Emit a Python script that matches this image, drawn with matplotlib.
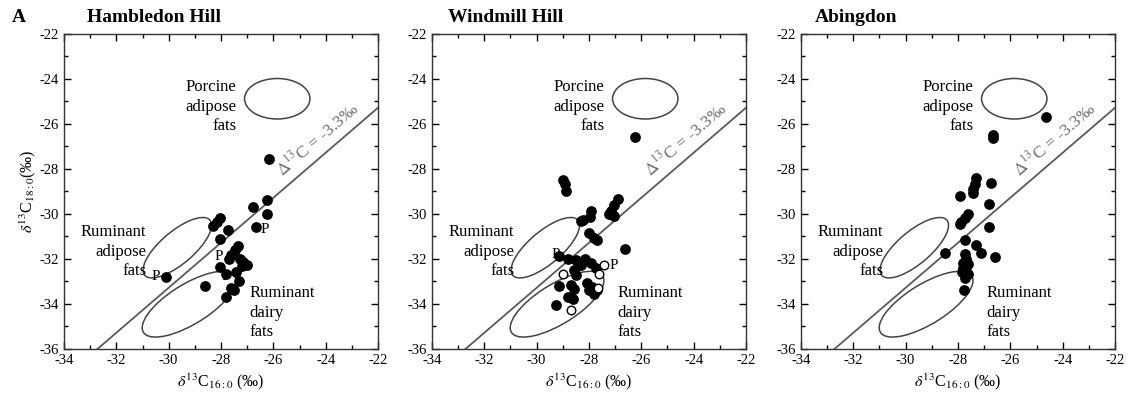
import numpy as np
import matplotlib
matplotlib.use('Agg')
import matplotlib.pyplot as plt
from matplotlib.patches import Ellipse
from matplotlib.ticker import MultipleLocator

plt.rcParams['font.family'] = ['Liberation Serif', 'DejaVu Serif']
plt.rcParams['mathtext.fontset'] = 'stix'
plt.rcParams['axes.unicode_minus'] = False

# Hambledon Hill
hh_x = [-26.16, -26.25, -26.77, -26.25, -26.66, -28.04, -28.17, -28.32, -27.72, -28.04,
        -27.34, -27.47, -27.6, -27.68, -27.27, -27.15, -27.02, -27.2, -28.04, -27.8,
        -27.44, -27.3, -27.6, -27.52, -27.8, -28.6, -30.1]
hh_y = [-27.56, -29.41, -29.7, -30.03, -30.62, -30.22, -30.37, -30.56, -30.74, -31.14,
        -31.45, -31.63, -31.85, -32.0, -32.04, -32.15, -32.3, -32.34, -32.37, -32.7,
        -32.6, -33.0, -33.3, -33.42, -33.7, -33.2, -32.8]
hh_open_x = []
hh_open_y = []
hh_p = [(-26.33, -30.7), (-28.1, -31.93), (-27.8, -32.8), (-30.5, -32.78)]

# Windmill Hill
wh_x = [-26.23, -29.0, -28.93, -28.88, -26.9, -27.03, -27.15, -27.25, -27.06, -27.92,
        -27.95, -28.24, -28.3, -28.0, -27.8, -27.7, -26.64, -29.14, -28.81, -28.49,
        -28.17, -28.3, -27.92, -27.73, -28.56, -28.49, -29.14, -28.69, -28.56, -28.06,
        -27.87, -27.68, -28.0, -27.8, -28.81, -28.62, -29.26]
wh_y = [-26.59, -28.49, -28.7, -29.0, -29.37, -29.6, -29.9, -30.04, -30.1, -29.9,
        -30.16, -30.27, -30.34, -30.86, -31.07, -31.16, -31.56, -31.9, -32.0, -32.08,
        -32.0, -32.27, -32.2, -32.4, -32.5, -32.74, -33.23, -33.19, -33.34, -33.11,
        -33.26, -33.41, -33.41, -33.56, -33.73, -33.78, -34.07]
wh_open_x = [-29.0, -27.43, -28.69, -27.6, -27.66]
wh_open_y = [-32.71, -32.27, -34.27, -32.7, -33.29]
wh_p = [(-29.28, -31.8), (-27.05, -32.3)]

# Abingdon
ab_x = [-24.63, -26.66, -26.68, -27.3, -27.36, -27.43, -27.43, -26.73, -27.94, -26.82,
        -27.62, -27.75, -27.87, -27.91, -26.82, -27.75, -27.3, -27.11, -26.6, -28.51,
        -27.75, -27.68, -27.8, -27.62, -27.8, -27.7, -27.85, -27.6, -27.75, -27.78]
ab_y = [-25.7, -26.5, -26.65, -28.44, -28.67, -28.89, -29.11, -28.64, -29.23, -29.56,
        -30.0, -30.18, -30.37, -30.48, -30.6, -31.16, -31.41, -31.75, -31.93, -31.75,
        -31.8, -32.0, -32.2, -32.25, -32.4, -32.55, -32.6, -32.7, -32.85, -33.41]
ab_open_x = []
ab_open_y = []
ab_p = []

sites = ['Hambledon Hill', 'Windmill Hill', 'Abingdon']
filled = [(hh_x, hh_y), (wh_x, wh_y), (ab_x, ab_y)]
opened = [(hh_open_x, hh_open_y), (wh_open_x, wh_open_y), (ab_open_x, ab_open_y)]
p_labels = [hh_p, wh_p, ab_p]

offset = -3.3  # delta13C line
lefts = [64, 432, 801]
title_x = [87, 448, 815]

fig = plt.figure(figsize=(11.33, 4), dpi=100)
fig.text(12 / 1133, 1 - 18 / 400, 'A', fontsize=14, fontweight='bold', va='center')

for i in range(3):
    ax = fig.add_axes([lefts[i] / 1133, 51.5 / 400, 314 / 1133, 315 / 400])
    ax.set_xlim(-34, -22)
    ax.set_ylim(-36, -22)

    # reference line
    lx = np.array([-34, -22])
    ax.plot(lx, lx + offset, color='#5a5a5a', lw=1.3, zorder=2)

    # reference ellipses
    ax.add_patch(Ellipse((-25.85, -24.9), 2.5, 1.8, angle=0, fill=False,
                         ec='#444444', lw=1.1))
    ax.add_patch(Ellipse((-29.67, -31.52), 3.5, 1.35, angle=46, fill=False,
                         ec='#444444', lw=1.1))
    ax.add_patch(Ellipse((-29.22, -34.03), 4.3, 1.7, angle=37, fill=False,
                         ec='#444444', lw=1.1))

    ax.text(-27.4, -25.25, 'Porcine\nadipose\nfats', ha='right', va='center',
            fontsize=12, linespacing=1.3)
    ax.text(-30.85, -31.7, 'Ruminant\nadipose\nfats', ha='right', va='center',
            fontsize=12, linespacing=1.3)
    ax.text(-26.9, -34.4, 'Ruminant\ndairy\nfats', ha='left', va='center',
            fontsize=12, linespacing=1.3)

    ang = ax.transData.transform_angles(np.array([45.0]), np.array([[-25, -28.3]]))[0]
    ax.text(-25.55, -28.5, r'$\Delta^{13}$C = -3.3‰', rotation=ang,
            rotation_mode='anchor', ha='left', va='bottom', fontsize=12.5,
            color='#707070')

    fx, fy = filled[i]
    ax.scatter(fx, fy, s=60, color='black', zorder=3, linewidths=0)
    ox, oy = opened[i]
    if ox:
        ax.scatter(ox, oy, s=38, facecolor='white', edgecolor='black',
                   linewidths=1.0, zorder=4)
    for (px, py) in p_labels[i]:
        ax.text(px, py, 'P', ha='center', va='center', fontsize=11, zorder=5)

    ax.xaxis.set_major_locator(MultipleLocator(2))
    ax.xaxis.set_minor_locator(MultipleLocator(1))
    ax.yaxis.set_major_locator(MultipleLocator(2))
    ax.yaxis.set_minor_locator(MultipleLocator(1))
    ax.tick_params(which='both', direction='in', top=True, right=True,
                   labelsize=10.5, pad=4)
    ax.tick_params(which='major', length=5, width=1)
    ax.tick_params(which='minor', length=3, width=1)
    for s in ax.spines.values():
        s.set_linewidth(1.0)
        s.set_color('#333333')

    ax.set_xlabel(r'$\delta^{13}$C$_{16:0}$ (‰)', fontsize=11.5, labelpad=3)
    if i == 0:
        ax.set_ylabel(r'$\delta^{13}$C$_{18:0}$(‰)', fontsize=11.5, labelpad=1)

    fig.text(title_x[i] / 1133, 1 - 18 / 400, sites[i], fontsize=14,
             fontweight='bold', va='center', ha='left')

fig.savefig('out.png', dpi=100)
